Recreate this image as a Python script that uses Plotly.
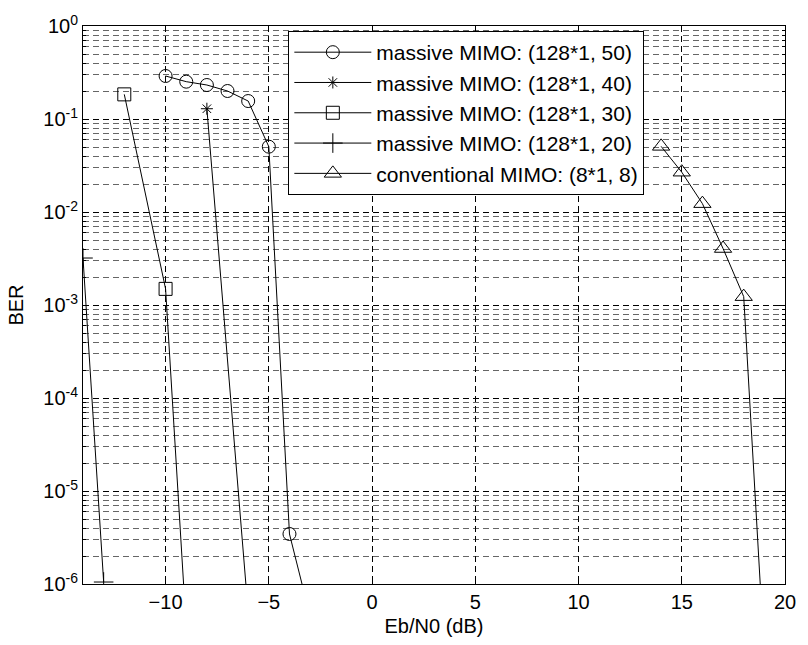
import plotly.graph_objects as go

# Eb/N0 (dB) sample points and measured BER for each antenna configuration
snr_50 = [-10, -9, -8, -7, -6, -5, -4, -3]
ber_50 = [0.29, 0.252, 0.232, 0.2, 0.156, 0.0504, 3.45e-6, 4.5e-7]

snr_40 = [-8, -6]
ber_40 = [0.129, 5.0e-7]

snr_30 = [-12, -10, -9]
ber_30 = [0.184, 1.49e-3, 3.4e-7]

snr_20 = [-14, -13]
ber_20 = [3.2e-3, 1.05e-6]

snr_conv = [14, 15, 16, 17, 18, 19]
ber_conv = [0.0508, 0.0268, 0.0123, 4.05e-3, 1.23e-3, 1.7e-7]

series_names = [
    "massive MIMO: (128*1, 50)",
    "massive MIMO: (128*1, 40)",
    "massive MIMO: (128*1, 30)",
    "massive MIMO: (128*1, 20)",
    "conventional MIMO: (8*1, 8)",
]

x_ticks = [-10, -5, 0, 5, 10, 15, 20]
y_exponents = [-6, -5, -4, -3, -2, -1, 0]
y_ticks = [10.0 ** e for e in y_exponents]
y_tick_text = [f"10<sup>{e}</sup>" for e in y_exponents]
y_minor = [m * 10.0 ** e for e in range(-6, 0) for m in range(2, 10)]

FONT = "Liberation Sans, Arial, sans-serif"

series = [
    (snr_50, ber_50, "circle-open", 13),
    (snr_40, ber_40, "asterisk-open", 10),
    (snr_30, ber_30, "square-open", 13),
    (snr_20, ber_20, "cross-thin-open", 14),
    (snr_conv, ber_conv, "triangle-up-open", 15),
]

fig = go.Figure()
for i, ((x, y, sym, size), name) in enumerate(zip(series, series_names)):
    fig.add_trace(go.Scatter(
        x=x, y=y, name=name, mode="lines+markers",
        legendgroup=f"g{i}",
        line=dict(color="black", width=1),
        marker=dict(symbol=sym, size=size, color="black",
                    line=dict(color="black", width=1)),
    ))

fig.update_layout(
    width=808, height=645,
    margin=dict(l=83, r=14, t=23, b=61),
    paper_bgcolor="white", plot_bgcolor="white",
    font=dict(family=FONT, size=20, color="black"),
    showlegend=True,
    legend=dict(
        x=0.2925, y=0.991, xanchor="left", yanchor="top",
        bgcolor="white", bordercolor="black", borderwidth=1,
        font=dict(family=FONT, size=21, color="black"),
        itemwidth=77, traceorder="grouped", tracegroupgap=0,
    ),
)

fig.update_xaxes(
    range=[-14, 20], tickvals=x_ticks, ticks="inside", ticklen=6,
    tickcolor="black", showline=True, linecolor="black", linewidth=1,
    mirror="ticks", zeroline=False,
    showgrid=True, gridcolor="black", gridwidth=1, griddash="6px,4px",
    tickfont=dict(family=FONT, size=20),
    title=dict(text="Eb/N0 (dB)", font=dict(family=FONT, size=20), standoff=6),
)

fig.update_yaxes(
    type="log", range=[-6, 0], tickvals=y_ticks, ticktext=y_tick_text,
    ticks="inside", ticklen=6, tickcolor="black",
    showline=True, linecolor="black", linewidth=1, mirror="ticks",
    showgrid=True, gridcolor="black", gridwidth=1, griddash="6px,4px",
    minor=dict(tickmode="array", tickvals=y_minor, ticks="inside", ticklen=3,
               tickcolor="black", showgrid=True, gridcolor="#666666",
               gridwidth=1, griddash="6px,4px"),
    tickfont=dict(family=FONT, size=20),
    title=dict(text="BER", font=dict(family=FONT, size=20), standoff=14),
)

fig.write_html("out.html")
